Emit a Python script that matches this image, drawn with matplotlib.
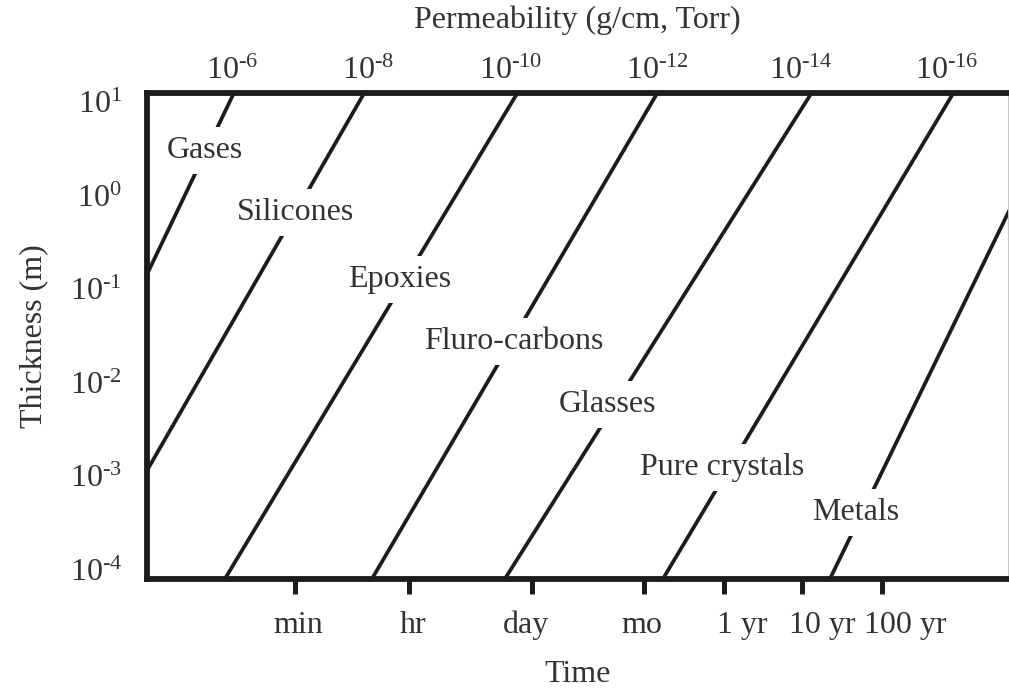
import numpy as np
import matplotlib
matplotlib.use("Agg")
import matplotlib.pyplot as plt
from matplotlib.ticker import FixedLocator, NullLocator

plt.rcParams['font.family'] = ['Liberation Serif', 'DejaVu Serif']
plt.rcParams['mathtext.fontset'] = 'custom'
plt.rcParams['mathtext.rm'] = 'Liberation Serif'
plt.rcParams['mathtext.it'] = 'Liberation Serif:italic'
plt.rcParams['mathtext.bf'] = 'Liberation Serif:bold'

# ---- data (x is a relative log-time position 0..100) ----
materials = ["Gases", "Silicones", "Epoxies", "Fluro-carbons", "Glasses",
             "Pure crystals", "Metals"]
# x position of each permeability line at thickness 10 m and at 1e-4 m
line_x_at_top = [9.59, 24.63, 42.39, 58.66, 76.52, 93.03, 106.28]
line_x_at_bottom = [-16.45, -6.63, 9.69, 26.75, 42.24, 60.56, 79.84]
line_thickness_ends = [1e1, 1e-4]
# label anchor positions (x, thickness)
label_x = [6.74, 17.19, 29.38, 42.62, 53.43, 66.78, 82.35]
label_thk = [3.06, 0.664, 0.127, 0.0276, 0.00585, 0.00124, 4.07e-4]

time_labels = ["min", "hr", "day", "mo", "1 yr", "10 yr", "100 yr"]
time_tick_pos = [17.19, 30.43, 44.72, 57.72, 67.02, 76.07, 85.37]
time_label_pos = [17.54, 30.89, 44.02, 57.49, 69.11, 78.40, 88.04]

perm_exponents = [-6, -8, -10, -12, -14, -16]
perm_pos = [9.9, 25.7, 42.2, 59.3, 75.9, 92.9]

thick_exponents = [1, 0, -1, -2, -3, -4]

TXT = '#333333'
INK = '#1c1c1c'
FS = 23
HY = '\u2010'  # short hyphen as in the reference


def pow_label(e):
    s = str(e).replace('-', HY)
    return r'$\mathrm{10^{%s}}$' % s


fig = plt.figure(figsize=(10.09, 6.88), dpi=100)
ax = fig.add_axes([0.1457, 0.1584, 0.8533, 0.7064])
ax.set_yscale('log')
ax.set_xlim(0, 100)
ax.set_ylim(10**-4.1, 10**1.096)

# draw each line, extended past the frame so it is clipped by the axes
ly0, ly1 = np.log10(line_thickness_ends)
for xt, xb in zip(line_x_at_top, line_x_at_bottom):
    k = (xt - xb) / (ly0 - ly1)
    ext = np.array([2.0, -5.0])
    xs = xb + k * (ext - ly1)
    ax.plot(xs, 10.0**ext, color=INK, lw=2.7, solid_capstyle='butt', zorder=2)

for name, lx, ly in zip(materials, label_x, label_thk):
    ax.text(lx, ly, name, ha='center', va='center', fontsize=FS, color=TXT,
            zorder=3,
            bbox=dict(boxstyle='square,pad=0.28', fc='white', ec='none'))

for s in ['left', 'top', 'bottom']:
    ax.spines[s].set_linewidth(4.2)
    ax.spines[s].set_color(INK)
    ax.spines[s].set_zorder(5)
ax.spines['right'].set_linewidth(0.8)
ax.spines['right'].set_color('#c8c8c8')

# y axis
ax.set_yticks([10.0**e for e in thick_exponents])
ax.set_yticklabels([pow_label(e) for e in thick_exponents])
ax.yaxis.set_minor_locator(NullLocator())
ax.tick_params(axis='y', length=0, pad=18, labelsize=FS, labelcolor=TXT)
ax.set_ylabel('Thickness (m)', fontsize=FS, color=TXT, labelpad=15)

# bottom axis: tick marks (major, unlabeled) + labels (minor, no mark)
ax.xaxis.set_major_locator(FixedLocator(time_tick_pos))
ax.set_xticklabels([''] * len(time_tick_pos))
ax.xaxis.set_minor_locator(FixedLocator(time_label_pos))
ax.set_xticklabels(time_labels, minor=True)
ax.tick_params(axis='x', which='major', direction='out', length=11, width=3.6,
               color=INK)
ax.tick_params(axis='x', which='minor', length=11, width=0, pad=12,
               labelsize=FS, labelcolor=TXT)
ax.set_xlabel('Time', fontsize=FS, color=TXT, labelpad=14)

# top axis
top = ax.secondary_xaxis('top')
top.set_xticks(perm_pos)
top.set_xticklabels([pow_label(e) for e in perm_exponents])
top.tick_params(length=0, pad=5, labelsize=FS, labelcolor=TXT)
top.spines['top'].set_visible(False)
top.set_xlabel('Permeability (g/cm, Torr)', fontsize=FS, color=TXT, labelpad=21)

fig.savefig('out.png', dpi=100)
